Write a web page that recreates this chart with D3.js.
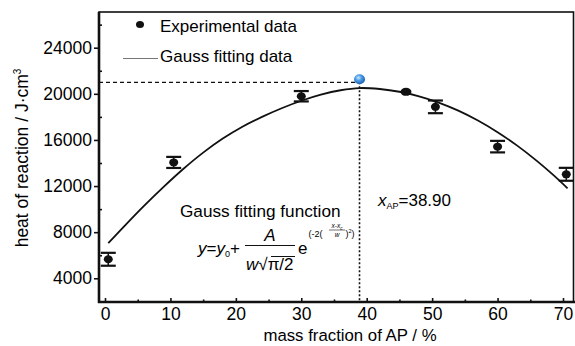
<!DOCTYPE html>
<html>
<head>
<meta charset="utf-8">
<script src="https://cdn.jsdelivr.net/npm/d3@7"></script>
<style>
  html, body { margin: 0; padding: 0; background: #fff; }
  svg { display: block; }
  text { font-family: "Liberation Sans", Arial, sans-serif; fill: #000; }
</style>
</head>
<body>
<svg id="chart" width="575" height="346"></svg>
<script>
// ---- data ----
const expX   = [0.5, 10.5, 30, 46, 50.5, 60, 70.5];
const expY   = [5650, 14050, 19790, 20170, 18870, 15420, 13020];
const expErr = [560, 480, 450, 0, 550, 500, 560];

const fitX = [0.5, 3, 6, 9, 12, 15, 18, 21, 24, 27, 30, 33, 36, 38.9, 42, 45, 48, 51, 54, 57, 60, 63, 66, 68.5, 70.7];
const fitY = [7045, 8550, 10300, 11950, 13500, 14900, 16120, 17150, 18000, 18750, 19400, 19930, 20310, 20500,
              20417, 20180, 19788, 19241, 18539, 17683, 16671, 15505, 14184, 12965, 11803];

const peakX = 38.90;
const peakY = 21000;

const xTicks = [0, 10, 20, 30, 40, 50, 60, 70];
const xMinor = [5, 15, 25, 35, 45, 55, 65];
const yTicks = [4000, 8000, 12000, 16000, 20000, 24000];
const yMinor = [6000, 10000, 14000, 18000, 22000, 26000];

// ---- layout ----
const svg = d3.select("#chart");
const frame = {left: 99, right: 573.5, top: 12, bottom: 302};
const x = d3.scaleLinear().domain([0, 70]).range([105, 563]);
const y = d3.scaleLinear().domain([4000, 24000]).range([278.3, 47.7]);
const FONT = "'Liberation Sans', Arial, sans-serif";

// frame
svg.append("rect")
  .attr("x", frame.left).attr("y", frame.top)
  .attr("width", frame.right - frame.left).attr("height", frame.bottom - frame.top)
  .attr("fill", "none").attr("stroke", "#111").attr("stroke-width", 1.6);
svg.append("line").attr("x1", frame.left).attr("x2", frame.left).attr("y1", frame.top).attr("y2", frame.bottom + 1)
  .attr("stroke", "#111").attr("stroke-width", 2.6);
svg.append("line").attr("x1", frame.left - 1).attr("x2", 575).attr("y1", frame.bottom).attr("y2", frame.bottom)
  .attr("stroke", "#111").attr("stroke-width", 2.6);

// y axis
const yAxis = d3.axisLeft(y).tickValues(yTicks).tickSize(4).tickPadding(2).tickFormat(d3.format("d"));
const gy = svg.append("g").attr("transform", `translate(${frame.left - 1},0)`).call(yAxis);
gy.select(".domain").remove();
gy.selectAll(".tick line").attr("stroke", "#111").attr("stroke-width", 1.6);
gy.selectAll(".tick text").style("font-size", "17.5px").style("font-family", FONT).attr("fill", "#000");
const gym = svg.append("g").attr("transform", `translate(${frame.left},0)`)
  .call(d3.axisRight(y).tickValues(yMinor).tickSize(3).tickFormat(""));
gym.select(".domain").remove();
gym.selectAll(".tick line").attr("stroke", "#111").attr("stroke-width", 1.6);

// x axis
const xAxis = d3.axisBottom(x).tickValues(xTicks).tickSize(-4).tickPadding(6).tickFormat(d3.format("d"));
const gx = svg.append("g").attr("transform", `translate(0,${frame.bottom})`).call(xAxis);
gx.select(".domain").remove();
gx.selectAll(".tick line").attr("stroke", "#111").attr("stroke-width", 1.6);
gx.selectAll(".tick text").style("font-size", "17.5px").style("font-family", FONT).attr("fill", "#000");
const gxm = svg.append("g").attr("transform", `translate(0,${frame.bottom})`)
  .call(d3.axisBottom(x).tickValues(xMinor).tickSize(-2.5).tickFormat(""));
gxm.select(".domain").remove();
gxm.selectAll(".tick line").attr("stroke", "#111").attr("stroke-width", 1.6);

// axis titles
svg.append("text").attr("x", 350).attr("y", 341).attr("text-anchor", "middle")
  .style("font-size", "16.8px").text("mass fraction of AP / %");
const yt = svg.append("text").attr("transform", "translate(28,158) rotate(-90)").attr("text-anchor", "middle")
  .style("font-size", "17.5px");
yt.append("tspan").text("heat of reaction / J·cm");
yt.append("tspan").attr("dy", -7).style("font-size", "10px").text("3");

// peak guide lines
svg.append("line").attr("x1", frame.left).attr("x2", x(peakX)).attr("y1", y(peakY)).attr("y2", y(peakY))
  .attr("stroke", "#111").attr("stroke-width", 1.3).attr("stroke-dasharray", "4,3");
svg.append("line").attr("x1", x(peakX)).attr("x2", x(peakX)).attr("y1", y(peakY)).attr("y2", frame.bottom)
  .attr("stroke", "#111").attr("stroke-width", 1.6).attr("stroke-dasharray", "2,2");

// fit curve
const line = d3.line().x((d, i) => x(fitX[i])).y((d, i) => y(fitY[i])).curve(d3.curveCatmullRom);
svg.append("path").datum(fitY).attr("d", line).attr("fill", "none").attr("stroke", "#111").attr("stroke-width", 1.8);

// error bars
const eb = svg.append("g");
expX.forEach((xv, i) => {
  if (expErr[i] <= 0) return;
  const cx = x(xv), y1 = y(expY[i] + expErr[i]), y2 = y(expY[i] - expErr[i]);
  eb.append("line").attr("x1", cx).attr("x2", cx).attr("y1", y1).attr("y2", y2).attr("stroke", "#111").attr("stroke-width", 1.5);
  [y1, y2].forEach(yy => eb.append("line").attr("x1", cx - 7.5).attr("x2", cx + 7.5).attr("y1", yy).attr("y2", yy)
    .attr("stroke", "#111").attr("stroke-width", 2.2));
});
// points
svg.append("g").selectAll("ellipse").data(expX).join("ellipse")
  .attr("cx", d => x(d)).attr("cy", (d, i) => y(expY[i]))
  .attr("rx", (d, i) => expErr[i] <= 0 ? 5.5 : 4.5).attr("ry", 4)
  .attr("fill", "#111");

// blue peak marker
const defs = svg.append("defs");
const grad = defs.append("radialGradient").attr("id", "blue").attr("cx", "40%").attr("cy", "35%").attr("r", "65%");
grad.append("stop").attr("offset", "0%").attr("stop-color", "#cfe8ff");
grad.append("stop").attr("offset", "45%").attr("stop-color", "#4a9be6");
grad.append("stop").attr("offset", "100%").attr("stop-color", "#1c5fae");
svg.append("ellipse").attr("cx", x(peakX)).attr("cy", y(peakY) - 3).attr("rx", 5.5).attr("ry", 5)
  .attr("fill", "url(#blue)");

// legend
svg.append("ellipse").attr("cx", 140).attr("cy", 24.5).attr("rx", 4).attr("ry", 3.6).attr("fill", "#111");
svg.append("text").attr("x", 160).attr("y", 31.5).style("font-size", "17px").text("Experimental data");
svg.append("line").attr("x1", 123).attr("x2", 158).attr("y1", 58.5).attr("y2", 58.5).attr("stroke", "#777").attr("stroke-width", 1.2);
svg.append("text").attr("x", 160).attr("y", 62).style("font-size", "17px").text("Gauss fitting data");

// annotations
svg.append("text").attr("x", 180).attr("y", 216.5).style("font-size", "17.2px").text("Gauss fitting function");

const xa = svg.append("text").attr("x", 378).attr("y", 206).style("font-size", "17px");
xa.append("tspan").style("font-style", "italic").text("x");
xa.append("tspan").attr("dy", 3).style("font-size", "9px").text("AP");
xa.append("tspan").attr("dy", -3).text("=38.90");

// formula
const f = svg.append("g").attr("class", "formula");
const f1 = f.append("text").attr("x", 198).attr("y", 253.5).style("font-size", "17px");
f1.append("tspan").style("font-style", "italic").text("y");
f1.append("tspan").text("=");
f1.append("tspan").style("font-style", "italic").text("y");
f1.append("tspan").attr("dy", 3).style("font-size", "9px").text("0");
f1.append("tspan").attr("dy", -3).text("+");
f.append("text").attr("x", 270).attr("y", 241).attr("text-anchor", "middle").style("font-size", "17px").style("font-style", "italic").text("A");
f.append("line").attr("x1", 245).attr("x2", 295).attr("y1", 245.5).attr("y2", 245.5).attr("stroke", "#111").attr("stroke-width", 1.2);
const den = f.append("text").attr("x", 246).attr("y", 270).style("font-size", "17px");
den.append("tspan").style("font-style", "italic").text("w");
den.append("tspan").text("√");
den.append("tspan").text("π/2");
f.append("line").attr("x1", 271).attr("x2", 295).attr("y1", 256.5).attr("y2", 256.5).attr("stroke", "#111").attr("stroke-width", 1);
f.append("text").attr("x", 298).attr("y", 253.5).style("font-size", "17px").text("e");
f.append("text").attr("x", 308.5).attr("y", 236.5).style("font-size", "9px").text("(-2(");
f.append("text").attr("x", 337).attr("y", 228).attr("text-anchor", "middle").style("font-size", "6.5px")
  .style("font-style", "italic").text("x-x").append("tspan").attr("dy", 1.5).style("font-size", "4.5px").text("c");
f.append("line").attr("x1", 329).attr("x2", 345).attr("y1", 230).attr("y2", 230).attr("stroke", "#111").attr("stroke-width", 0.6);
f.append("text").attr("x", 337).attr("y", 236.5).attr("text-anchor", "middle").style("font-size", "6.5px").style("font-style", "italic").text("w");
const ex2 = f.append("text").attr("x", 345.5).attr("y", 236.5).style("font-size", "9px");
ex2.append("tspan").text(")");
ex2.append("tspan").attr("dy", -4).style("font-size", "5.5px").text("2");
ex2.append("tspan").attr("dy", 4).text(")");
</script>
</body>
</html>
